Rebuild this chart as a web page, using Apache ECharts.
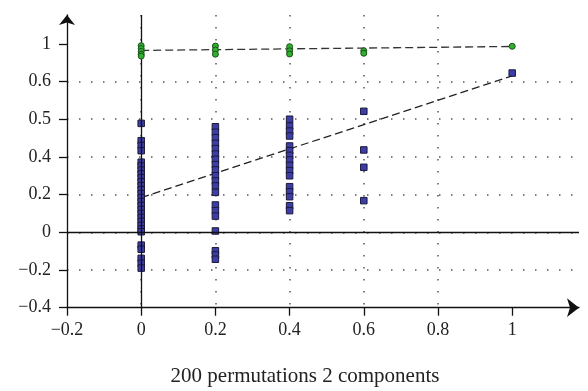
<!DOCTYPE html>
<html><head><meta charset="utf-8">
<script src="https://cdn.jsdelivr.net/npm/echarts@6/dist/echarts.min.js"></script>
<style>html,body{margin:0;padding:0;background:#fff}#c{width:588px;height:391px}</style>
</head><body><div id="c"></div>
<script>
// permutation groups (correlation between permuted and original Y)
const groupX = [0, 0.2, 0.4, 0.6, 1];
// R2 values (green circles)
const r2Values = [
  [0.99, 0.975, 0.96, 0.945, 0.935],
  [0.988, 0.967, 0.945],
  [0.985, 0.963, 0.946],
  [0.963, 0.95],
  [0.987]
];
// Q2 values (blue squares)
const q2Values = [
  [0.578, 0.486, 0.46, 0.433, 0.372, 0.352, 0.33, 0.31, 0.289, 0.268, 0.247, 0.226, 0.205, 0.184, 0.163, 0.142, 0.121, 0.1, 0.079, 0.058, 0.037, 0.018, 0.003, -0.068, -0.09, -0.138, -0.164, -0.19],
  [0.56, 0.531, 0.502, 0.472, 0.444, 0.415, 0.387, 0.359, 0.331, 0.3, 0.272, 0.246, 0.212, 0.145, 0.115, 0.086, 0.007, -0.098, -0.12, -0.143],
  [0.6, 0.564, 0.537, 0.511, 0.458, 0.433, 0.408, 0.384, 0.355, 0.327, 0.3, 0.242, 0.215, 0.189, 0.141, 0.115],
  [0.642, 0.437, 0.345, 0.168],
  [0.845]
];
// regression lines (x = 0 and x = 1)
const lineX = [0, 1];
const r2Line = [0.965, 0.986];
const q2Line = [0.184, 0.83];
// tick labels
const xTickValues = [-0.2, 0, 0.2, 0.4, 0.6, 0.8, 1];
const xTickLabels = ['\u22120.2', '0', '0.2', '0.4', '0.6', '0.8', '1'];
const yTickValues = [-0.4, -0.2, 0, 0.2, 0.4, 0.6, 0.8, 1];
const yTickLabels = ['\u22120.4', '\u22120.2', '0', '0.2', '0.4', '0.5', '0.6', '1'];
const titleText = '200 permutations 2 components';

function lookup(vals, labels) {
  return function (v) {
    for (let i = 0; i < vals.length; i++) if (Math.abs(vals[i] - v) < 1e-6) return labels[i];
    return '';
  };
}
const r2Data = groupX.flatMap((x, i) => r2Values[i].map(v => [x, v]));
const q2Data = groupX.flatMap((x, i) => q2Values[i].map(v => [x, v]));

const FONT = 'Liberation Serif';
const dotted = { color: '#555', width: 1.5, type: [1.5, 10.5] };

const chart = echarts.init(document.getElementById('c'), null, { renderer: 'canvas' });
chart.setOption({
  animation: false,
  backgroundColor: '#fff',
  grid: { left: 67, right: 9, top: 15, bottom: 83.3, containLabel: false, outerBoundsMode: 'none' },
  xAxis: {
    type: 'value', min: -0.2, max: 1.18, interval: 0.2,
    axisLine: { onZero: false, symbol: ['none', 'arrow'], symbolSize: [14, 12], lineStyle: { color: '#111', width: 1.3 } },
    axisTick: { customValues: xTickValues, length: 8, lineStyle: { color: '#111', width: 1.3 } },
    axisLabel: { customValues: xTickValues, formatter: lookup(xTickValues, xTickLabels), margin: 14, color: '#222', fontFamily: FONT, fontSize: 18, hideOverlap: false },
    splitLine: { show: true, showMinLine: false, showMaxLine: false, lineStyle: dotted }
  },
  yAxis: {
    type: 'value', min: -0.4, max: 1.153, interval: 0.2,
    axisLine: { onZero: false, symbol: ['none', 'arrow'], symbolSize: [12, 10], lineStyle: { color: '#111', width: 1.3 } },
    axisTick: { customValues: yTickValues, length: 8, lineStyle: { color: '#111', width: 1.3 } },
    axisLabel: { customValues: yTickValues, formatter: lookup(yTickValues, yTickLabels), margin: 16, color: '#222', fontFamily: FONT, fontSize: 18, hideOverlap: false },
    splitLine: { show: true, showMinLine: false, showMaxLine: false, lineStyle: dotted }
  },
  graphic: [{
    type: 'text', x: 305, y: 376,
    style: { text: titleText, font: '21px "Liberation Serif"', fill: '#222', textAlign: 'center', textVerticalAlign: 'middle' }
  }],
  series: [
    {
      type: 'line', data: lineX.map((x, i) => [x, q2Line[i]]), symbol: 'none', silent: true,
      lineStyle: { color: '#222', width: 1.3, type: [8, 4] }, z: 3,
      markLine: {
        silent: true, symbol: 'none', label: { show: false },
        lineStyle: { color: '#111', width: 1.3, type: 'solid' },
        data: [{ xAxis: 0 }, { yAxis: 0 }]
      }
    },
    {
      type: 'line', data: lineX.map((x, i) => [x, r2Line[i]]), symbol: 'none', silent: true,
      lineStyle: { color: '#333', width: 1.3, type: [8, 4] }, z: 3
    },
    {
      type: 'scatter', data: q2Data, symbol: 'rect', symbolSize: 6.5, z: 4,
      itemStyle: { color: '#3d3da8', borderColor: '#1a1a3a', borderWidth: 1, opacity: 1 }
    },
    {
      type: 'scatter', data: r2Data, symbol: 'circle', symbolSize: 6, z: 5,
      itemStyle: { color: '#2fb02f', borderColor: '#1b4f1b', borderWidth: 1, opacity: 1 }
    }
  ]
});
</script>
</body></html>
